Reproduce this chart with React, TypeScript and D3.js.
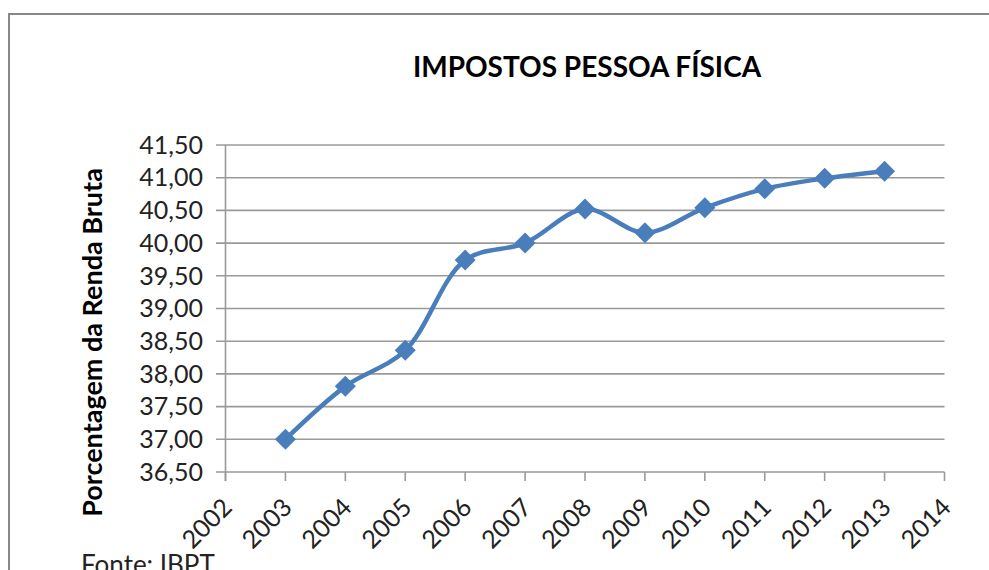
import React from "react";
import * as d3 from "d3";

const years = [2003, 2004, 2005, 2006, 2007, 2008, 2009, 2010, 2011, 2012, 2013];
const values = [37.0, 37.81, 38.36, 39.74, 40.0, 40.52, 40.16, 40.54, 40.83, 40.99, 41.1];
const xTicks = [2002, 2003, 2004, 2005, 2006, 2007, 2008, 2009, 2010, 2011, 2012, 2013, 2014];
const yTicks = [36.5, 37.0, 37.5, 38.0, 38.5, 39.0, 39.5, 40.0, 40.5, 41.0, 41.5];
const title = "IMPOSTOS PESSOA FÍSICA";
const yTitle = "Porcentagem da Renda Bruta";
const source = "Fonte: IBPT";

const W = 989;
const H = 570;
const FONT = "Lato, 'Open Sans', sans-serif";

export default function App() {
  const x = d3.scaleLinear().domain([2002, 2014]).range([225.5, 944.5]);
  const y = d3.scaleLinear().domain([36.5, 41.5]).range([472, 145]);
  const pts: [number, number][] = years.map((yr, i) => [x(yr), y(values[i])]);
  const line = d3.line().curve(d3.curveCatmullRom.alpha(0.5))(pts) || "";
  const fmt = (v: number) => v.toFixed(2).replace(".", ",");
  const blue = "#4A7EBB";
  const grid = "#9a9a9a";
  const d = 10.5; // half diagonal of diamond
  const diamond = `M0,${-d}L${d},0L0,${d}L${-d},0Z`;

  return (
    <svg width={W} height={H} style={{ position: "absolute", left: 0, top: 0, background: "#fff" }} fontFamily={FONT}>
      <rect x={0} y={0} width={W} height={H} fill="#fff" />
      <rect x={9} y={14} width={W + 20} height={H + 20} fill="none" stroke="#888" strokeWidth={2} />
      <text x={587} y={77} textAnchor="middle" fontSize={28} fontWeight="bold" fill="#000">{title}</text>
      {yTicks.map((t) => (
        <g key={t}>
          <line x1={216} x2={x(2014)} y1={y(t)} y2={y(t)} stroke={grid} strokeWidth={1.6} />
          <text x={203} y={y(t)} dy="0.35em" textAnchor="end" fontSize={25} fill="#222">{fmt(t)}</text>
        </g>
      ))}
      <line x1={x(2002)} x2={x(2002)} y1={y(41.5)} y2={y(36.5) + 9} stroke={grid} strokeWidth={1.6} />
      {xTicks.map((t) => (
        <g key={t}>
          <line x1={x(t)} x2={x(t)} y1={y(36.5)} y2={y(36.5) + 9} stroke={grid} strokeWidth={1.6} />
          <text transform={`translate(${x(t) + 8},${y(36.5) + 37}) rotate(-45)`} textAnchor="end" fontSize={25} fill="#222">{t}</text>
        </g>
      ))}
      <path d={line} fill="none" stroke={blue} strokeWidth={4.5} strokeLinejoin="round" strokeLinecap="round" />
      {pts.map((p, i) => (
        <path key={i} d={diamond} transform={`translate(${p[0]},${p[1]})`} fill={blue} />
      ))}
      <text transform={`translate(102,${(165 + 520) / 2}) rotate(-90)`} textAnchor="middle" fontSize={27} fontWeight="bold" fill="#000">{yTitle}</text>
      <text x={81} y={574} fontSize={26} fill="#222">{source}</text>
    </svg>
  );
}
